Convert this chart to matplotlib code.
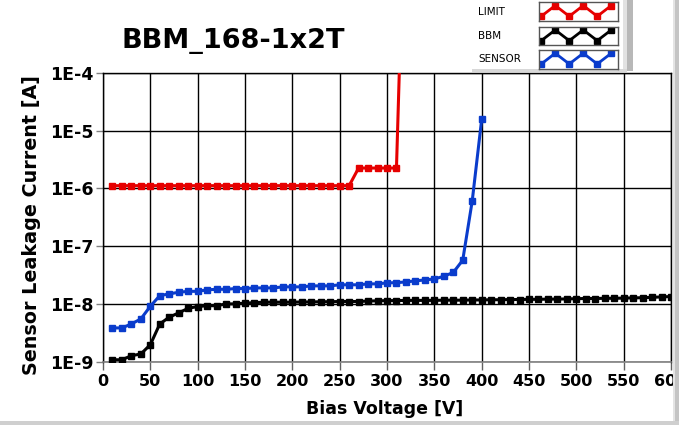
import matplotlib.pyplot as plt
from matplotlib.patches import Rectangle

W, H = 679, 425

# LIMIT (compliance) curve
limit_v = [10, 20, 30, 40, 50, 60, 70, 80, 90, 100, 110, 120, 130, 140, 150,
           160, 170, 180, 190, 200, 210, 220, 230, 240, 250, 260,
           270, 280, 290, 300, 310, 315]
limit_i = [1.11e-6] * 26 + [2.24e-6] * 5 + [1.3e-3]

# BBM leakage current
bbm_v = [10, 20, 30, 40, 50, 60, 70, 80, 90, 100, 110, 120, 130, 140, 150,
         160, 170, 180, 190, 200, 210, 220, 230, 240, 250, 260, 270, 280, 290, 300,
         310, 320, 330, 340, 350, 360, 370, 380, 390, 400, 410, 420, 430, 440, 450,
         460, 470, 480, 490, 500, 510, 520, 530, 540, 550, 560, 570, 580, 590, 600]
bbm_i = [1.08e-9, 1.08e-9, 1.27e-9, 1.36e-9, 1.97e-9, 4.5e-9, 5.9e-9, 7.0e-9, 8.4e-9, 9.0e-9,
         9.3e-9, 9.3e-9, 1.0e-8, 1.0e-8, 1.03e-8, 1.05e-8, 1.07e-8, 1.07e-8, 1.07e-8, 1.07e-8,
         1.08e-8, 1.08e-8, 1.09e-8, 1.09e-8, 1.1e-8, 1.1e-8, 1.1e-8, 1.12e-8, 1.13e-8, 1.14e-8,
         1.14e-8, 1.15e-8, 1.15e-8, 1.15e-8, 1.15e-8, 1.16e-8, 1.16e-8, 1.16e-8, 1.17e-8, 1.17e-8,
         1.18e-8, 1.18e-8, 1.19e-8, 1.19e-8, 1.2e-8, 1.2e-8, 1.21e-8, 1.21e-8, 1.22e-8, 1.23e-8,
         1.24e-8, 1.24e-8, 1.25e-8, 1.25e-8, 1.26e-8, 1.27e-8, 1.28e-8, 1.3e-8, 1.32e-8, 1.34e-8]

# SENSOR leakage current
sensor_v = [10, 20, 30, 40, 50, 60, 70, 80, 90, 100, 110, 120, 130, 140, 150,
            160, 170, 180, 190, 200, 210, 220, 230, 240, 250, 260, 270, 280, 290, 300,
            310, 320, 330, 340, 350, 360, 370, 380, 390, 400]
sensor_i = [3.84e-9, 3.84e-9, 4.5e-9, 5.5e-9, 9.1e-9, 1.39e-8, 1.49e-8, 1.59e-8, 1.65e-8, 1.65e-8,
            1.75e-8, 1.79e-8, 1.79e-8, 1.84e-8, 1.84e-8, 1.89e-8, 1.89e-8, 1.89e-8, 1.97e-8, 1.97e-8,
            1.97e-8, 2.05e-8, 2.05e-8, 2.05e-8, 2.14e-8, 2.14e-8, 2.14e-8, 2.22e-8, 2.22e-8, 2.31e-8,
            2.33e-8, 2.4e-8, 2.5e-8, 2.6e-8, 2.7e-8, 3.0e-8, 3.5e-8, 5.7e-8, 6.0e-7, 1.55e-5]

x_ticks = [0, 50, 100, 150, 200, 250, 300, 350, 400, 450, 500, 550, 600]
y_exponents = [-9, -8, -7, -6, -5, -4]

series = [
    ("LIMIT", limit_v, limit_i, "#e60000"),
    ("BBM", bbm_v, bbm_i, "#000000"),
    ("SENSOR", sensor_v, sensor_i, "#0a3ccc"),
]


def fx(px):
    return px / W


def fy(py):
    return 1 - py / H


plt.rcParams['font.family'] = ['DejaVu Sans']

fig = plt.figure(figsize=(W / 100, H / 100), dpi=100)
fig.patch.set_facecolor("white")

left, right, top, bottom = 103, 671, 72.7, 361.7
ax = fig.add_axes([fx(left), fy(bottom), (right - left) / W, (bottom - top) / H])

for name, v, i, c in series:
    ax.plot(v, i, color=c, lw=2.2, marker="s", ms=4.8, mec=c, mfc=c, zorder=3)

ax.set_yscale("log")
ax.set_xlim(0, 600)
ax.set_ylim(1e-9, 1e-4)
ax.set_xticks(x_ticks)
ax.set_yticks([10.0 ** e for e in y_exponents])
ax.set_yticklabels([f"1E{e}" for e in y_exponents])
ax.minorticks_off()
ax.grid(True, color="black", lw=1.0)
ax.set_axisbelow(True)

for s in ["top", "right", "left"]:
    ax.spines[s].set_color("black")
    ax.spines[s].set_linewidth(1.0)
ax.spines["bottom"].set_color("#808080")
ax.spines["bottom"].set_linewidth(1.2)

ax.tick_params(axis="x", length=6, width=1, color="#606060", pad=3, labelsize=11.5)
ax.tick_params(axis="y", length=5, width=1, color="#808080", pad=2, labelsize=12.5)
for lab in ax.get_xticklabels() + ax.get_yticklabels():
    lab.set_fontweight("bold")

fig.text(fx(122), fy(48.3), "BBM_168-1x2T", fontsize=19.5, fontweight="bold",
         ha="left", va="baseline")
fig.text(fx(385), fy(414), "Bias Voltage [V]", fontsize=12.5, fontweight="bold",
         ha="center", va="baseline")
fig.text(fx(32), fy(225), "Sensor Leakage Current [A]", fontsize=13.8, fontweight="bold",
         rotation=90, ha="center", va="center")

# legend panel
fig.patches.append(Rectangle((fx(470), fy(69)), fx(153), 69 / H, transform=fig.transFigure,
                             facecolor="white", edgecolor="none", zorder=4))
fig.patches.append(Rectangle((fx(623), fy(71)), fx(4), 71 / H, transform=fig.transFigure,
                             facecolor="#e2e2e2", edgecolor="none", zorder=5))
fig.patches.append(Rectangle((fx(627), fy(71)), fx(6), 71 / H, transform=fig.transFigure,
                             facecolor="#b8b8b8", edgecolor="none", zorder=5))
fig.patches.append(Rectangle((fx(472), fy(71.5)), fx(155), 2.5 / H, transform=fig.transFigure,
                             facecolor="#d8d8d8", edgecolor="none", zorder=5))

box_tops = [2.3, 26.7, 50]
for (name, v, i, c), bt in zip(series, box_tops):
    fig.text(fx(478), fy(bt + 9.5), name, fontsize=7.5, ha="left", va="center", zorder=6)
    lax = fig.add_axes([fx(539), fy(bt + 18.5), fx(79), 18.5 / H], zorder=6)
    # zigzag sample line, as drawn in the instrument legend
    lax.plot([0, 1, 2, 3, 4, 5], [0, 1, 0, 1, 0, 1], color=c, lw=2, marker="s", ms=4,
             mfc=c, mec=c)
    lax.set_xlim(-0.16, 5.48)
    lax.set_ylim(-0.42, 1.3)
    lax.set_xticks([])
    lax.set_yticks([])
    for s in lax.spines.values():
        s.set_color("#555555")
        s.set_linewidth(1)

# window frame on the right and bottom
fig.patches.append(Rectangle((fx(672.5), 0), fx(2), 1, transform=fig.transFigure,
                             facecolor="#e4e4e4", edgecolor="none", zorder=10))
fig.patches.append(Rectangle((fx(674.5), 0), fx(4.5), 1, transform=fig.transFigure,
                             facecolor="#c4c4c4", edgecolor="none", zorder=10))
fig.patches.append(Rectangle((0, 0), 1, 4.5 / H, transform=fig.transFigure,
                             facecolor="#cfcfcf", edgecolor="none", zorder=10))

fig.savefig("out.png", dpi=100)
